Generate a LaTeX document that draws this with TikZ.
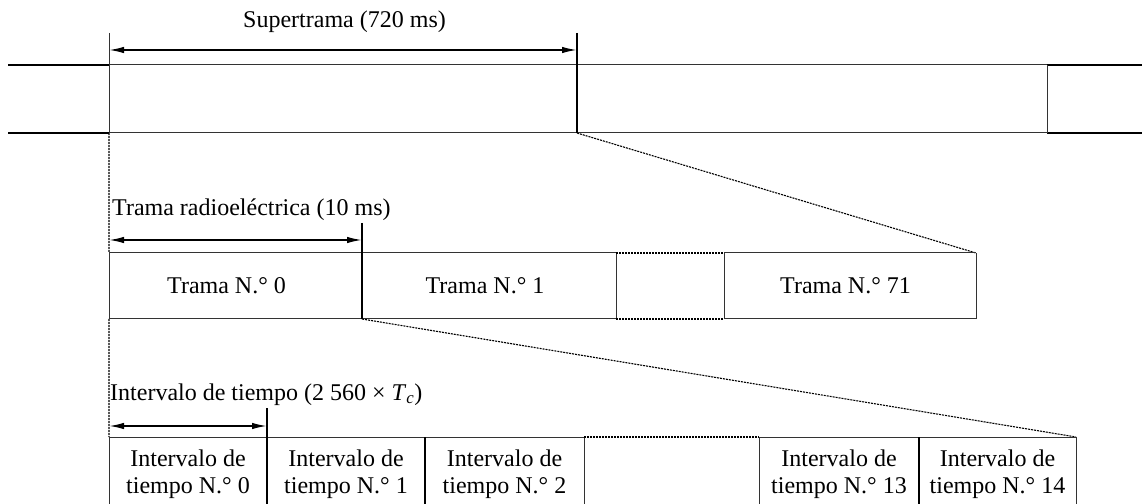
\documentclass[tikz,border=0pt]{standalone}
\usepackage{fontspec}
\setmainfont{Liberation Serif}
\usetikzlibrary{arrows.meta}
\begin{document}
\begin{tikzpicture}[x=1bp,y=-1bp,
  heavy/.style={line width=1.6bp,black},
  light/.style={line width=1bp,black!80},
  dotl/.style={line width=1.1bp,black,dash pattern=on 2bp off 1bp},
  dim/.style={line width=1.6bp,black,{Latex[length=15bp,width=6.5bp]}-{Latex[length=15bp,width=6.5bp]}},
  lbl/.style={inner sep=0pt,font=\fontsize{24bp}{27bp}\selectfont},
  boxtxt/.style={inner sep=0pt,align=center,font=\fontsize{24bp}{27bp}\selectfont}]
\useasboundingbox (0,0) rectangle (1142,504);
% ---------- super frame ----------
\coordinate (tl) at (8,65);   \coordinate (bl) at (8,133);
\coordinate (s0t) at (109,65); \coordinate (s0b) at (109,133); \coordinate (s0u) at (109,33);
\coordinate (s1t) at (577,65); \coordinate (s1b) at (577,133); \coordinate (s1u) at (577,33);
\coordinate (s2t) at (1047,65); \coordinate (s2b) at (1047,133);
\coordinate (tr) at (1142,65); \coordinate (br) at (1142,133);
\draw[heavy] (tl) -- (s0t) (bl) -- (s0b) (s2t) -- (tr) (s2b) -- (br);
\draw[light] (s0t) -- (s2t) (s0b) -- (s2b) (s0u) -- (s0b) (s2t) -- (s2b);
\draw[heavy] (s1u) -- (s1b);
\coordinate (a0) at (109,50); \coordinate (a1) at (577,50);
\draw[dim] (a0) -- (a1);
\node[lbl,anchor=base west] (suplbl) at (243,28) {Supertrama (720 ms)};
% ---------- radio frames ----------
\coordinate (f0t) at (109,253); \coordinate (f0b) at (109,319);
\coordinate (f1t) at (362,253); \coordinate (f1b) at (362,319); \coordinate (f1u) at (362,223);
\coordinate (f2t) at (616,253); \coordinate (f2b) at (616,319);
\coordinate (f3t) at (724,253); \coordinate (f3b) at (724,319);
\coordinate (f4t) at (976,253); \coordinate (f4b) at (976,319);
\draw[dotl] (s0b) -- (f0t) (s1b) -- (f4t);
\draw[light] (f0t) -- (f2t) (f0b) -- (f2b) (f3t) -- (f4t) (f3b) -- (f4b)
  (f0t) -- (f0b) (f2t) -- (f2b) (f3t) -- (f3b) (f4t) -- (f4b);
\draw[dotl] (f2t) -- (f3t) (f2b) -- (f3b);
\draw[heavy] (f1u) -- (f1b);
\coordinate (b0) at (109,240); \coordinate (b1) at (362,240);
\draw[dim] (b0) -- (b1);
\node[lbl,anchor=base west] (radlbl) at (112,216) {Trama radioeléctrica (10 ms)};
\node[boxtxt,anchor=base west] (fr0) at (167,294) {Trama N.° 0};
\node[boxtxt,anchor=base] (fr1) at (485,294) {Trama N.° 1};
\node[boxtxt,anchor=base west] (fr71) at (780,294) {Trama N.° 71};
% ---------- time slots ----------
\coordinate (t0t) at (109,437); \coordinate (t0b) at (109,504);
\coordinate (t1t) at (267,437); \coordinate (t1b) at (267,504); \coordinate (t1u) at (267,408);
\coordinate (t2t) at (425,437); \coordinate (t2b) at (425,504);
\coordinate (t3t) at (584,437); \coordinate (t3b) at (584,504);
\coordinate (t4t) at (759,437); \coordinate (t4b) at (759,504);
\coordinate (t5t) at (919,437); \coordinate (t5b) at (919,504);
\coordinate (t6t) at (1076,437); \coordinate (t6b) at (1076,504);
\draw[dotl] (f0b) -- (t0t) (f1b) -- (t6t);
\draw[light] (t0t) -- (t3t) (t4t) -- (t6t) (t0t) -- (t0b) (t3t) -- (t3b) (t4t) -- (t4b) (t6t) -- (t6b);
\draw[dotl] (t3t) -- (t4t);
\draw[heavy] (t1u) -- (t1b) (t2t) -- (t2b) (t5t) -- (t5b);
\coordinate (c0) at (109,426); \coordinate (c1) at (267,426);
\draw[dim] (c0) -- (c1);
\node[lbl,anchor=base west] (slotlbl) at (110,400) {Intervalo de tiempo (2 560 × \textit{T}\textsubscript{\textit{c}})};
\node[boxtxt] (sl0) at (188,474) {Intervalo de\\tiempo N.° 0};
\node[boxtxt] (sl1) at (346,474) {Intervalo de\\tiempo N.° 1};
\node[boxtxt] (sl2) at (504.5,474) {Intervalo de\\tiempo N.° 2};
\node[boxtxt] (sl13) at (839,474) {Intervalo de\\tiempo N.° 13};
\node[boxtxt] (sl14) at (997.5,474) {Intervalo de\\tiempo N.° 14};
\end{tikzpicture}
\end{document}
